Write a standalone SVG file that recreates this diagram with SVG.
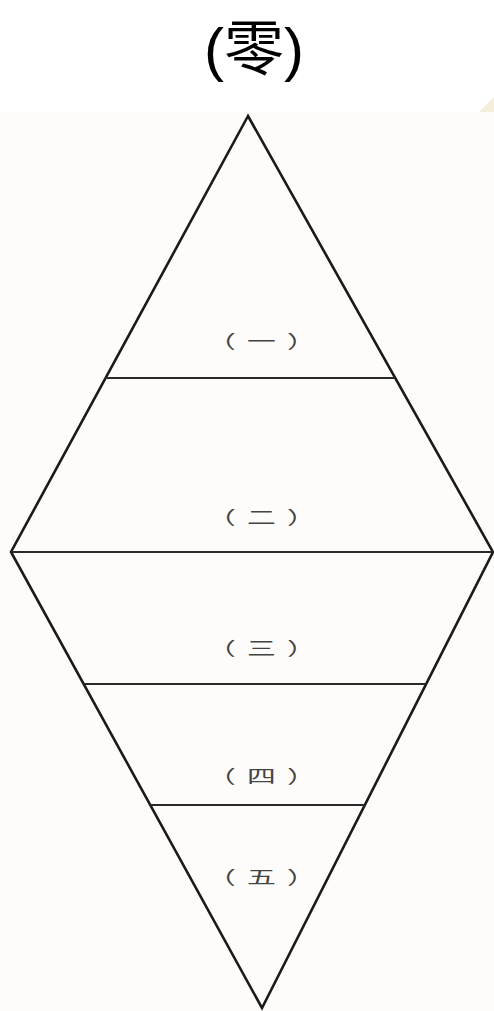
<svg xmlns="http://www.w3.org/2000/svg" width="494" height="1011" viewBox="0 0 494 1011">
<style>
.edge{stroke:#1a1a1a;stroke-width:2.6;fill:none;stroke-linejoin:miter}
.div{stroke:#2a2a2a;stroke-width:2}
.lbl{font-family:"Noto Sans CJK SC","Noto Sans CJK JP",sans-serif;font-size:18px;fill:#444;text-anchor:middle;letter-spacing:7px}
.title{font-family:"Liberation Sans","Noto Sans CJK SC",sans-serif;font-size:60px;fill:#000;text-anchor:middle}
</style>
<rect x="0" y="0" width="494" height="1011" fill="#ffffff"/>
<rect x="0" y="112" width="494" height="899" fill="#fdfcfa"/>
<polygon points="479,112 494,97 494,112" fill="#f5eedb"/>
<g id="title"><text class="title" x="254" y="70">(<tspan font-family="Noto Sans CJK SC, sans-serif" font-size="60px">零</tspan>)</text></g>
<g id="connectors">
<polygon class="edge" points="248,116 11,552 262,1008 493,552"/>
<line class="div" x1="105" y1="378" x2="395" y2="378"/>
<line class="div" x1="11" y1="552" x2="493" y2="552"/>
<line class="div" x1="84" y1="684" x2="426" y2="684"/>
<line class="div" x1="150" y1="805" x2="365" y2="805"/>
</g>
<g id="n1"><text class="lbl" transform="translate(267,348) scale(1.6,1)">（一）</text></g>
<g id="n2"><text class="lbl" transform="translate(267,524) scale(1.6,1)">（二）</text></g>
<g id="n3"><text class="lbl" transform="translate(267,655) scale(1.6,1)">（三）</text></g>
<g id="n4"><text class="lbl" transform="translate(267,783) scale(1.6,1)">（四）</text></g>
<g id="n5"><text class="lbl" transform="translate(267,884) scale(1.6,1)">（五）</text></g>
</svg>
